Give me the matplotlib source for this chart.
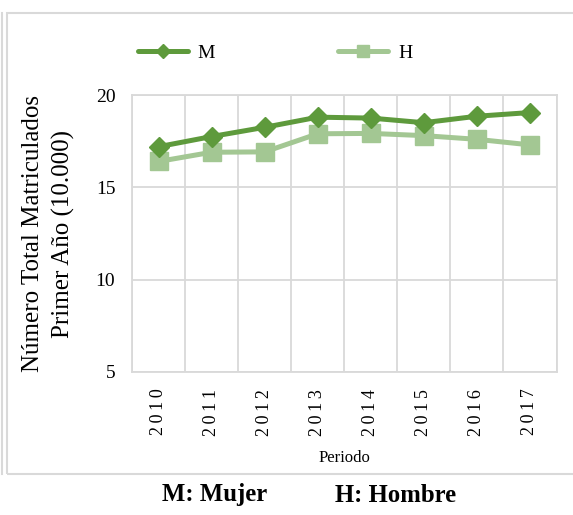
import matplotlib.pyplot as plt
from matplotlib.patches import Rectangle
from matplotlib.lines import Line2D

# Datos (en unidades de 10.000)
years = ['2010', '2011', '2012', '2013', '2014', '2015', '2016', '2017']
mujer = [17.2, 17.75, 18.25, 18.8, 18.75, 18.5, 18.85, 19.05]
hombre = [16.4, 16.9, 16.92, 17.9, 17.92, 17.8, 17.6, 17.3]
yticks = [5, 10, 15, 20]

c_m = '#5E9A3C'
c_h = '#A3C793'
grid_c = '#D9D9D9'

plt.rcParams['font.family'] = ['Liberation Serif', 'DejaVu Serif']

W, H = 573, 515
fig = plt.figure(figsize=(W / 100, H / 100), dpi=100)

# marco del grafico
fig.add_artist(Rectangle((7 / W, 1 - 474 / H), (575 - 7) / W, (474 - 13) / H,
                         transform=fig.transFigure, fill=False,
                         edgecolor=grid_c, lw=1.5))
fig.add_artist(Line2D([2 / W, 2 / W], [1 - 474 / H, 1 - 13 / H],
                      transform=fig.transFigure, color=grid_c, lw=1.5))

x0, x1, yt, yb = 132, 556.5, 95, 372
ax = fig.add_axes([x0 / W, 1 - yb / H, (x1 - x0) / W, (yb - yt) / H])

x = list(range(len(years)))
ax.plot(x, mujer, color=c_m, lw=3.6, marker='D', ms=10,
        solid_capstyle='round', zorder=4)
ax.plot(x, hombre, color=c_h, lw=3.6, marker='s', ms=13,
        solid_capstyle='round', zorder=3)

ax.set_xlim(-0.5, len(years) - 0.5)
ax.set_ylim(5, 20)
ax.set_yticks(yticks)
ax.set_yticklabels([str(v) for v in yticks], fontsize=14)
ax.set_xticks(x)
ax.set_xticklabels(['\u2009'.join(y) for y in years], rotation=90, fontsize=13)
ax.tick_params(length=0)
ax.tick_params(axis='x', pad=12)
ax.tick_params(axis='y', pad=12)

# rejilla
for v in yticks:
    ax.axhline(v, color=grid_c, lw=1.3, zorder=1)
for i in range(len(years) + 1):
    ax.axvline(i - 0.5, color=grid_c, lw=1.3, zorder=1)
for s in ax.spines.values():
    s.set_color(grid_c)
    s.set_linewidth(1.3)

ax.set_xlabel('Periodo', fontsize=12, labelpad=10)
ax.set_ylabel('Número Total Matriculados\nPrimer Año (10.000)', fontsize=18,
              labelpad=15, linespacing=1.45)

handles = [Line2D([], [], color=c_m, lw=3.6, marker='D', ms=7, solid_capstyle='round'),
           Line2D([], [], color=c_h, lw=3.6, marker='s', ms=8, solid_capstyle='round')]
fig.legend(handles, ['M', 'H'], loc='center left',
           bbox_to_anchor=(120 / W, 1 - 53 / H),
           ncol=2, frameon=False, fontsize=14, handlelength=2.6,
           columnspacing=6.3, handletextpad=0.5)

fig.text(162 / W, 1 - 495 / H, 'M: Mujer', ha='left', va='center',
         fontsize=17.8, fontweight='bold')
fig.text(335 / W, 1 - 495 / H, 'H: Hombre', ha='left', va='center',
         fontsize=17.8, fontweight='bold')

fig.savefig('out.png', dpi=100)
